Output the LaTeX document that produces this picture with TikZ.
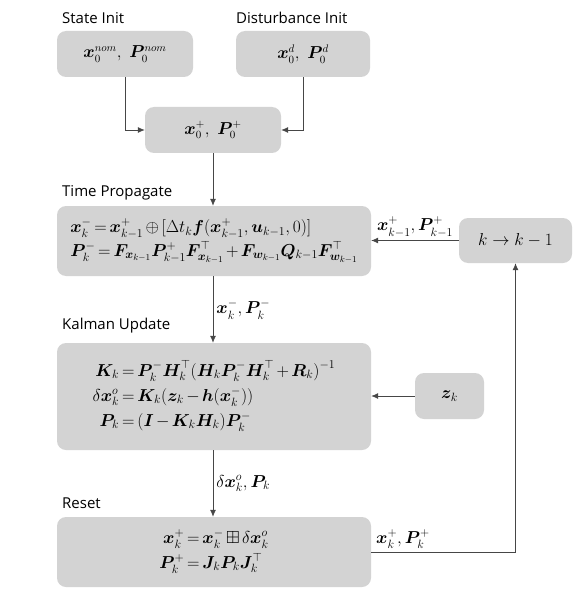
\documentclass[tikz,border=0pt]{standalone}
\usepackage{amsmath,amssymb,bm}
\usepackage{fontspec}
\newfontfamily\labelfont{Open Sans}
\usetikzlibrary{arrows.meta}
\definecolor{boxgray}{RGB}{211,211,211}
\definecolor{linegray}{RGB}{70,70,70}
\newcommand{\tightmath}{\thickmuskip=3mu plus 1mu\medmuskip=2.5mu plus 1mu}
\begin{document}
\begin{tikzpicture}[x=1pt,y=-1pt,
  box/.style={fill=boxgray, rounded corners=9pt, inner sep=0pt, align=center},
  sect/.style={anchor=west, font=\labelfont\fontsize{15}{17}\selectfont, inner sep=0pt},
  arr/.style={draw=linegray, line width=0.8pt, -{Latex[length=7pt,width=6pt]}},
  lbl/.style={inner sep=3pt, font=\fontsize{18}{20}\selectfont},
  bigmath/.style={font=\fontsize{16}{19}\selectfont},
  eqmath/.style={font=\fontsize{17.5}{20}\selectfont\tightmath}]
\useasboundingbox (0,0) rectangle (581,596);
% section labels
\node[sect] (l1) at (62,18) {State Init};
\node[sect] (l2) at (236,18) {Disturbance Init};
\node[sect] (l3) at (62,193) {Time Propagate};
\node[sect] (l4) at (62,326) {Kalman Update};
\node[sect] (l5) at (62,503) {Reset};
% boxes
\node[box, minimum width=136pt, minimum height=46pt, bigmath] (si) at (125,54)
  {$\bm{x}_0^{nom},\ \bm{P}_0^{nom}$};
\node[box, minimum width=134pt, minimum height=46pt, bigmath] (di) at (303,54)
  {$\bm{x}_0^{d},\ \bm{P}_0^{d}$};
\node[box, minimum width=136pt, minimum height=46pt, bigmath] (x0) at (213,130)
  {$\bm{x}_0^{+},\ \bm{P}_0^{+}$};
\node[box, minimum width=314pt, minimum height=70pt, eqmath] (tp) at (214,241)
  {$\begin{array}{@{}l@{}}
   \bm{x}_k^- = \bm{x}_{k-1}^+ \oplus [\Delta t_k \bm{f}(\bm{x}_{k-1}^+, \bm{u}_{k-1}, 0)]\\[3pt]
   \bm{P}_k^- = \bm{F}_{\bm{x}_{k-1}} \bm{P}_{k-1}^+ \bm{F}_{\bm{x}_{k-1}}^{\top} + \bm{F}_{\bm{w}_{k-1}} \bm{Q}_{k-1} \bm{F}_{\bm{w}_{k-1}}^{\top}
   \end{array}$};
\node[box, minimum width=113pt, minimum height=45pt, bigmath] (kb) at (515.5,240.5)
  {$k \rightarrow k-1$};
\node[box, minimum width=314pt, minimum height=107pt, eqmath] (ku) at (214,396.5)
  {$\begin{aligned}
   \bm{K}_k &= \bm{P}_k^- \bm{H}_k^{\top} (\bm{H}_k \bm{P}_k^- \bm{H}_k^{\top} + \bm{R}_k)^{-1}\\[1pt]
   \delta\bm{x}_k^o &= \bm{K}_k (\bm{z}_k - \bm{h}(\bm{x}_k^-))\\[1pt]
   \bm{P}_k &= (\bm{I} - \bm{K}_k \bm{H}_k) \bm{P}_k^-
   \end{aligned}$};
\node[box, minimum width=69pt, minimum height=46pt, eqmath] (zb) at (449.5,396)
  {$\bm{z}_k$};
\node[box, minimum width=314pt, minimum height=70pt, eqmath] (rs) at (214,552)
  {$\begin{aligned}
   \bm{x}_k^+ &= \bm{x}_k^- \boxplus \delta\bm{x}_k^o\\[-1pt]
   \bm{P}_k^+ &= \bm{J}_k \bm{P}_k \bm{J}_k^{\top}
   \end{aligned}$};
% connectors
\draw[arr] (si.south) |- (x0.west);
\draw[arr] (di.south) |- (x0.east);
\draw[arr] (x0.south) -- (x0.south |- tp.north);
\draw[arr] (x0.south |- tp.south) -- (x0.south |- ku.north)
  node[lbl, right, midway] {$\bm{x}_k^-, \bm{P}_k^-$};
\draw[arr] (x0.south |- ku.south) -- (x0.south |- rs.north)
  node[lbl, right, midway] {$\delta\bm{x}_k^o, \bm{P}_k$};
\draw[arr] (kb.west) -- (kb.west -| tp.east)
  node[lbl, above, midway, yshift=0pt] {$\bm{x}_{k-1}^+, \bm{P}_{k-1}^+$};
\draw[arr] (zb.west) -- (zb.west -| ku.east);
\draw[arr] (rs.east) -| (kb.south)
  node[lbl, above, pos=0.11] {$\bm{x}_k^+, \bm{P}_k^+$};
\end{tikzpicture}
\end{document}
